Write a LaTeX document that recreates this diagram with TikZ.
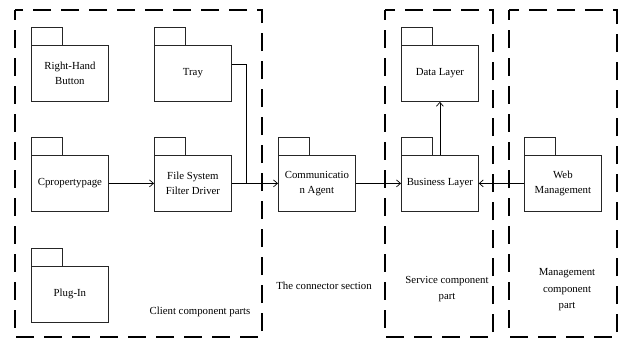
\documentclass[tikz,border=0pt]{standalone}
\usepackage{fontspec}
\setmainfont{Liberation Serif}
\usetikzlibrary{arrows.meta}
\begin{document}
\begin{tikzpicture}[x=1pt,y=-1pt,
  pkgbody/.style={draw=black!85, line width=0.8pt, minimum width=77pt, minimum height=56pt,
    inner sep=0pt, align=center, anchor=north west, font=\fontsize{10.8}{15}\selectfont},
  pkgtab/.style={draw=black!85, line width=0.8pt},
  region/.style={draw=black, line width=2.6pt, dash pattern=on 18pt off 10pt, dash phase=8pt},
  conn/.style={line width=0.7pt, -{Straight Barb[length=4pt,width=7pt]}},
  plainline/.style={line width=0.7pt},
  lbl/.style={align=center, font=\fontsize{10.8}{16.5}\selectfont}]
\useasboundingbox (0,0) rectangle (619,340);
\newcommand\pkgnode[4]{\node[pkgbody] (#1) at (#2,#3) {#4};
  \draw[pkgtab] (#1.north west) rectangle ++(31,-18);}
% regions
\draw[region] (15,10) rectangle (262,337);
\draw[region] (385,10) rectangle (493,337);
\draw[region] (509,10) rectangle (617,337);
% packages
\pkgnode{rhb}{31}{45}{Right-Hand\\Button}
\pkgnode{tray}{154}{45}{Tray}
\pkgnode{cprop}{31}{155}{Cpropertypage}
\pkgnode{fsfd}{154}{155}{File System\\Filter Driver}
\pkgnode{plug}{31}{266}{Plug-In}
\pkgnode{comm}{278}{155}{Communicatio\\n Agent}
\pkgnode{data}{401}{45}{Data Layer}
\pkgnode{bus}{401}{155}{Business Layer}
\pkgnode{web}{524}{155}{Web\\Management}
% connectors
\coordinate (tj) at (246,183);
\draw[conn] (cprop.east) -- (fsfd.west);
\draw[conn] (fsfd.east) -- (comm.west);
\draw[plainline] ([yshift=9pt]tray.east) -| (tj);
\draw[conn] (comm.east) -- (bus.west);
\draw[conn] (bus.north) -- (data.south);
\draw[conn] (web.west) -- (bus.east);
% labels
\node[lbl] (clientlbl) at (200,312) {Client component parts};
\node[lbl] (connlbl) at (324,286) {The connector section};
\node[lbl] (servlbl) at (447,289) {Service component\\part};
\node[lbl] (mgmtlbl) at (567,290) {Management\\component\\part};
\end{tikzpicture}
\end{document}
